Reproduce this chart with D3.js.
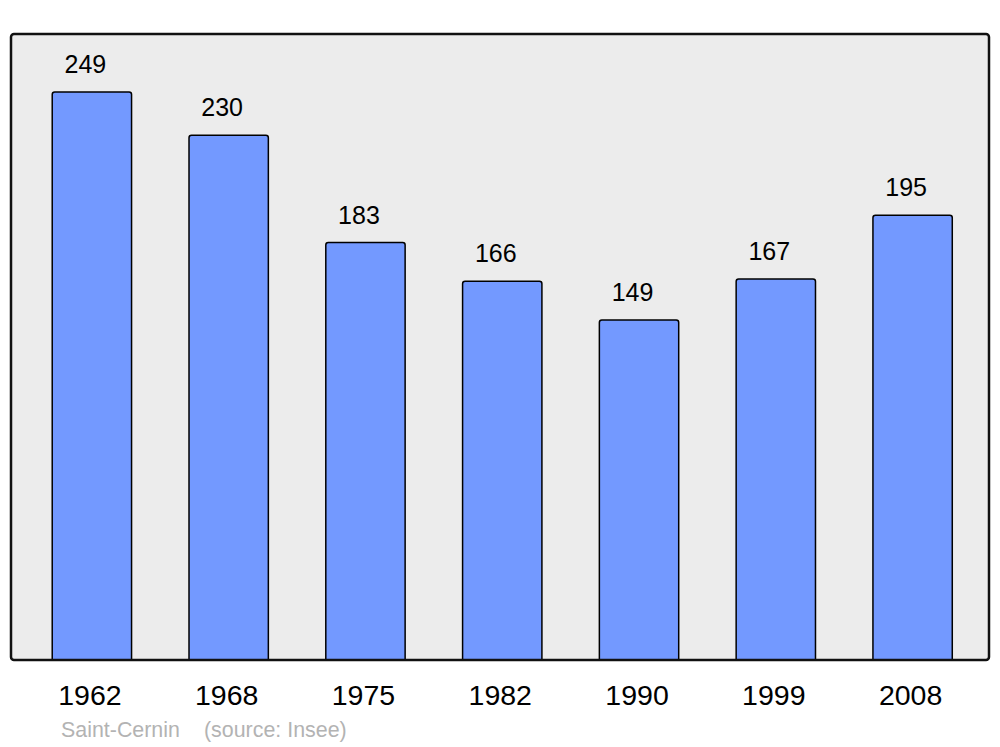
<!DOCTYPE html>
<meta charset="utf-8">
<style>
  body { margin: 0; background: #fff; }
  text { font-family: "Liberation Sans", Arial, sans-serif; }
</style>
<body>
<div id="chart"></div>
<script src="https://d3js.org/d3.v7.min.js"></script>
<script>

// population figures
const years = ["1962", "1968", "1975", "1982", "1990", "1999", "2008"];
const population = [249, 230, 183, 166, 149, 167, 195];
const placeName = "Saint-Cernin";
const sourceText = "(source: Insee)";

const width = 1000, height = 747;
const frame = {left: 11, top: 34, right: 989, bottom: 660};

let svg = d3.select("#chart").append("svg")
            .attr("width", width)
            .attr("height", height);

let x = d3.scaleBand()
          .domain(years)
          .range([23.5, 981])
          .paddingInner(0.42)
          .paddingOuter(0.21);

let y = d3.scaleLinear()
          .domain([0, 274.4])
          .range([frame.bottom, frame.top]);

// grey plot area
svg.append("rect")
   .attr("x", frame.left)
   .attr("y", frame.top)
   .attr("width", frame.right - frame.left)
   .attr("height", frame.bottom - frame.top)
   .attr("rx", 3)
   .style("fill", "#ececec")
   .style("stroke", "none");

let data = years.map((yr, i) => ({year: yr, value: population[i]}));

// clip bars to the plot area so their bottoms sit on the frame
svg.append("clipPath")
   .attr("id", "plot-clip")
   .append("rect")
   .attr("x", frame.left)
   .attr("y", frame.top)
   .attr("width", frame.right - frame.left)
   .attr("height", frame.bottom - frame.top);

svg.append("g")
   .attr("clip-path", "url(#plot-clip)")
   .selectAll("rect")
   .data(data)
   .enter().append("rect")
    .attr("x", d => x(d.year))
    .attr("y", d => y(d.value))
    .attr("width", x.bandwidth())
    .attr("height", d => frame.bottom - y(d.value) + 4)
    .attr("rx", 2.5)
    .style("fill", "#7399ff")
    .style("stroke", "#000")
    .style("stroke-width", 1.5);

// value labels
svg.append("g")
   .selectAll("text")
   .data(data)
   .enter().append("text")
    .attr("x", d => x(d.year) + x.bandwidth() / 2 - 6.5)
    .attr("y", d => y(d.value) - 19)
    .attr("text-anchor", "middle")
    .style("font-size", "25px")
    .style("fill", "#000")
    .text(d => d.value);

// frame border on top
svg.append("rect")
   .attr("x", frame.left)
   .attr("y", frame.top)
   .attr("width", frame.right - frame.left)
   .attr("height", frame.bottom - frame.top)
   .attr("rx", 3)
   .style("fill", "none")
   .style("stroke", "#111")
   .style("stroke-width", 2.5);

// x axis labels
let xAxis = d3.axisBottom(x).tickSize(0).tickPadding(0);
let axisG = svg.append("g")
   .attr("transform", "translate(-2," + 705 + ")")
   .call(xAxis);
axisG.select(".domain").remove();
axisG.selectAll("text")
     .attr("dy", 0)
     .attr("y", 0)
     .style("font-size", "28.5px")
     .style("font-family", "'Liberation Sans', Arial, sans-serif")
     .style("fill", "#000");

svg.append("text")
   .attr("x", 61)
   .attr("y", 737)
   .style("font-size", "21.4px")
   .style("fill", "#b3b3b3")
   .text(placeName);

svg.append("text")
   .attr("x", 204)
   .attr("y", 737)
   .style("font-size", "21.4px")
   .style("fill", "#b3b3b3")
   .text(sourceText);

</script>
</body>
</html>
